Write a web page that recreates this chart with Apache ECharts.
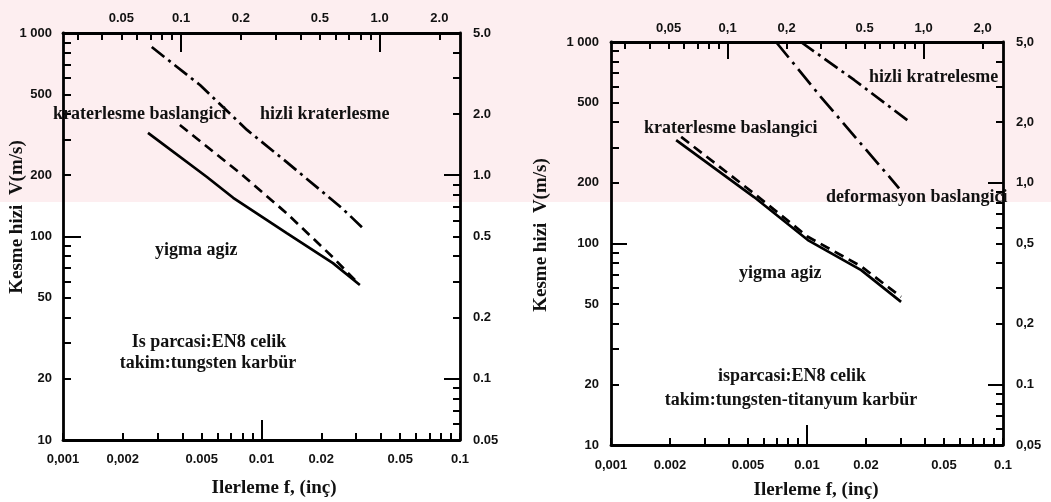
<!DOCTYPE html>
<html>
<head>
<meta charset="utf-8">
<script src="https://cdn.jsdelivr.net/npm/echarts@6/dist/echarts.min.js"></script>
<style>html,body{margin:0;padding:0;background:#fff;}#c{width:1051px;height:502px;}</style>
</head>
<body>
<div id="c"></div>
<script>
// ---------- data ----------
// Left chart: EN8 steel, tungsten carbide tool
var leftSolidF  = [0.00268, 0.00531, 0.0072, 0.0134, 0.0229, 0.0313];
var leftSolidV  = [323, 196, 155, 104, 74, 57.8];
var leftDashF   = [0.00388, 0.0078, 0.0134, 0.0229, 0.0306];
var leftDashV   = [353, 205, 130, 79, 59];
var leftRapidF  = [0.0028, 0.0049, 0.00845, 0.0134, 0.0254, 0.0321];
var leftRapidV  = [853, 555, 334, 232, 138, 111];
// Right chart: EN8 steel, tungsten-titanium carbide tool
var rightSolidF  = [0.00215, 0.00537, 0.0101, 0.0189, 0.0302];
var rightSolidV  = [326, 170, 104, 73.8, 51.3];
var rightDashF   = [0.00228, 0.00537, 0.0101, 0.0189, 0.0302];
var rightDashV   = [338, 177, 108, 77, 54.3];
var rightDeformF = [0.00695, 0.01178, 0.0295];
var rightDeformV = [1000, 533, 188];
var rightRapidF  = [0.00931, 0.0174, 0.034];
var rightRapidV  = [1000, 648, 396];

// ---------- tick labels ----------
var fTickVals = [0.001, 0.002, 0.005, 0.01, 0.02, 0.05, 0.1];
var fTickLabelsL = ['0,001', '0,002', '0.005', '0.01', '0.02', '0.05', '0.1'];
var fTickLabelsR = ['0,001', '0.002', '0.005', '0.01', '0.02', '0.05', '0.1'];
var mmTickVals = [0.05, 0.1, 0.2, 0.5, 1.0, 2.0];
var mmTickLabelsL = ['0.05', '0.1', '0.2', '0.5', '1.0', '2.0'];
var mmTickLabelsR = ['0,05', '0,1', '0,2', '0.5', '1,0', '2,0'];
var vTickVals = [10, 20, 50, 100, 200, 500, 1000];
var vTickLabels = ['10', '20', '50', '100', '200', '500', '1 000'];
var v2TickVals = [0.05, 0.1, 0.2, 0.5, 1.0, 2.0, 5.0];
var v2TickLabelsL = ['0.05', '0.1', '0.2', '0.5', '1.0', '2.0', '5.0'];
var v2TickLabelsR = ['0,05', '0.1', '0,2', '0,5', '1,0', '2,0', '5,0'];

// minor tick positions
function decadeTicks(lo, hi) {
  var out = [];
  for (var d = lo; d < hi * 0.999; d *= 10) {
    for (var k = 1; k <= 9; k++) { out.push(+(d * k).toPrecision(6)); }
  }
  out.push(hi);
  return out;
}
var fMinor = decadeTicks(0.001, 0.1);
var vMinor = decadeTicks(10, 1000);
var mmMinor = [0.03,0.04,0.05,0.06,0.07,0.08,0.09,0.1,0.2,0.3,0.4,0.5,0.6,0.7,0.8,0.9,1.0,2.0];
var v2Minor = [0.06,0.07,0.08,0.09,0.1,0.2,0.3,0.4,0.5,0.6,0.7,0.8,0.9,1,2,3,4,5];

function fmt(vals, labels) {
  return function (v) {
    var best = 0, bd = 1e9;
    for (var i = 0; i < vals.length; i++) {
      var d = Math.abs(Math.log(v / vals[i]));
      if (d < bd) { bd = d; best = i; }
    }
    return labels[best];
  };
}

var TICKFONT = { fontFamily: 'Liberation Sans', fontWeight: 'bold', fontSize: 13, color: '#111' };
var LINE = { color: '#000', width: 2.8 };

function axis(grid, pos, min, max, ticks, tickLen, labelVals, labels, margin, showLine) {
  return {
    type: 'log', logBase: 10, gridIndex: grid, position: pos, min: min, max: max,
    axisLine: { show: showLine, onZero: false, lineStyle: LINE },
    axisTick: { show: true, inside: true, length: tickLen, customValues: ticks, lineStyle: { color: '#000', width: 2 } },
    splitLine: { show: false },
    minorTick: { show: false },
    axisLabel: labelVals ? Object.assign({ show: true, margin: margin, customValues: labelVals, formatter: fmt(labelVals, labels) }, TICKFONT) : { show: false }
  };
}

var xAxes = [], yAxes = [];
// grid 0 (left)
xAxes.push(axis(0, 'bottom', 0.001, 0.1, fMinor, 7, fTickVals, fTickLabelsL, 13, true));   // 0
xAxes.push(axis(0, 'bottom', 0.001, 0.1, [0.01], 20, null, null, 0, false));              // 1
xAxes.push(axis(0, 'top', 0.0254, 2.54, mmMinor, 7, mmTickVals, mmTickLabelsL, 8, true));  // 2
xAxes.push(axis(0, 'top', 0.0254, 2.54, [0.1, 1.0], 19, null, null, 0, false));           // 3
yAxes.push(axis(0, 'left', 10, 1000, vMinor, 8, vTickVals, vTickLabels, 11, true));        // 0
yAxes.push(axis(0, 'left', 10, 1000, [100], 18, null, null, 0, false));                   // 1
yAxes.push(axis(0, 'right', 0.05, 5, v2Minor, 7, v2TickVals, v2TickLabelsL, 13, true));    // 2
yAxes.push(axis(0, 'right', 0.05, 5, [0.1, 1.0], 16, null, null, 0, false));              // 3
// grid 1 (right)
xAxes.push(axis(1, 'bottom', 0.001, 0.1, fMinor, 7, fTickVals, fTickLabelsR, 14, true));   // 4
xAxes.push(axis(1, 'bottom', 0.001, 0.1, [0.01], 20, null, null, 0, false));              // 5
xAxes.push(axis(1, 'top', 0.0254, 2.54, mmMinor, 7, mmTickVals, mmTickLabelsR, 7, true));  // 6
xAxes.push(axis(1, 'top', 0.0254, 2.54, [0.1, 1.0], 17, null, null, 0, false));           // 7
yAxes.push(axis(1, 'left', 10, 1000, vMinor, 8, vTickVals, vTickLabels, 12, true));        // 4
yAxes.push(axis(1, 'left', 10, 1000, [100], 16, null, null, 0, false));                   // 5
yAxes.push(axis(1, 'right', 0.05, 5, v2Minor, 7, v2TickVals, v2TickLabelsR, 13, true));    // 6
yAxes.push(axis(1, 'right', 0.05, 5, [0.1, 1.0], 15, null, null, 0, false));              // 7

function zip(f, v) { return f.map(function (x, i) { return [x, v[i]]; }); }
function line(name, xi, yi, f, v, dash) {
  return {
    name: name, type: 'line', xAxisIndex: xi, yAxisIndex: yi, data: zip(f, v),
    symbol: 'none', smooth: false, silent: true, animation: false, z: 3,
    lineStyle: { color: '#000', width: 2.7, type: dash || 'solid' }
  };
}

var series = [
  line('yigma agiz', 0, 0, leftSolidF, leftSolidV, 'solid'),
  line('kraterlesme baslangici', 0, 0, leftDashF, leftDashV, [10, 6]),
  line('hizli kraterlesme', 0, 0, leftRapidF, leftRapidV, [16, 5, 3, 5]),
  line('yigma agiz', 4, 4, rightSolidF, rightSolidV, 'solid'),
  line('kraterlesme baslangici', 4, 4, rightDashF, rightDashV, [10, 6]),
  line('deformasyon baslangici', 4, 4, rightDeformF, rightDeformV, [20, 6, 3, 6]),
  line('hizli kratrelesme', 4, 4, rightRapidF, rightRapidV, [16, 5, 3, 5])
];

var SERIF = 'Liberation Serif';
function txt(s, x, y, size, align, rot) {
  return {
    type: 'text', x: x, y: y, rotation: rot || 0, silent: true, z: 10,
    style: { text: s, fontFamily: SERIF, fontWeight: 'bold', fontSize: size || 18, fill: '#111',
             align: align || 'left', verticalAlign: 'middle' }
  };
}

var graphics = [
  // faint pink watermark band of the scanned page
  { type: 'rect', shape: { x: 0, y: 0, width: 1051, height: 202 }, style: { fill: '#fdeef0' }, z: -10, silent: true },
  txt('kraterlesme baslangici', 53, 114, 18),
  txt('hizli kraterlesme', 260, 114, 18),
  txt('yigma agiz', 155, 250, 18),
  txt('Is parcasi:EN8 celik', 209, 342, 18, 'center'),
  txt('takim:tungsten karbür', 208, 363, 18, 'center'),
  txt('Ilerleme f, (inç)', 274, 488, 19, 'center'),
  txt('Kesme hizi  V(m/s)', 17, 217, 19, 'center', Math.PI / 2),
  txt('hizli kratrelesme', 869, 77, 18),
  txt('kraterlesme baslangici', 644, 128, 18),
  txt('deformasyon baslangici', 826, 197, 18),
  txt('yigma agiz', 739, 273, 18),
  txt('isparcasi:EN8 celik', 792, 376, 18, 'center'),
  txt('takim:tungsten-titanyum karbür', 791, 400, 18, 'center'),
  txt('Ilerleme f, (inç)', 816, 490, 19, 'center'),
  txt('Kesme hizi  V(m/s)', 541, 235, 19, 'center', Math.PI / 2)
];

var chart = echarts.init(document.getElementById('c'), null, { renderer: 'canvas' });
chart.setOption({
  animation: false,
  backgroundColor: '#fff',
  grid: [
    { left: 63, top: 33, width: 397, height: 407, containLabel: false, outerBoundsMode: 'none' },
    { left: 611, top: 42, width: 392, height: 403, containLabel: false, outerBoundsMode: 'none' }
  ],
  xAxis: xAxes,
  yAxis: yAxes,
  series: series,
  graphic: graphics
});
</script>
</body>
</html>
